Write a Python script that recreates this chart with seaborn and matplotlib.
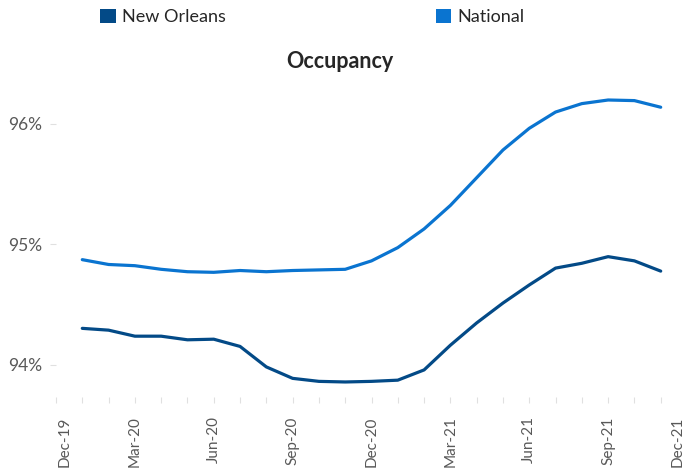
import matplotlib
matplotlib.use("Agg")
import matplotlib.pyplot as plt
import matplotlib.transforms as mtransforms
from matplotlib.patches import Patch
from matplotlib.ticker import FixedLocator, MultipleLocator, FuncFormatter
import seaborn as sns
import pandas as pd

# ---- data (Jan-20 .. Nov-21, monthly) ----
month_index = list(range(1, 24))
new_orleans = [94.30, 94.285, 94.235, 94.235, 94.205, 94.21, 94.15, 93.98, 93.885,
               93.86, 93.855, 93.86, 93.87, 93.955, 94.16, 94.345, 94.51, 94.66,
               94.80, 94.84, 94.895, 94.86, 94.775]
national = [94.87, 94.83, 94.82, 94.79, 94.77, 94.765, 94.78, 94.77, 94.78,
            94.785, 94.79, 94.86, 94.97, 95.125, 95.32, 95.55, 95.78, 95.96,
            96.095, 96.165, 96.195, 96.19, 96.135]
series_names = ["New Orleans", "National"]
tick_positions = [0, 3, 6, 9, 12, 15, 18, 21, 24]
tick_labels = ["Dec-19", "Mar-20", "Jun-20", "Sep-20", "Dec-20",
               "Mar-21", "Jun-21", "Sep-21", "Dec-21"]
y_ticks = [94, 95, 96]
title = "Occupancy"

colors = {"New Orleans": "#034A87", "National": "#0A74D0"}

df = pd.concat([
    pd.DataFrame({"month": month_index, "value": new_orleans, "series": series_names[0]}),
    pd.DataFrame({"month": month_index, "value": national, "series": series_names[1]}),
])

sns.set_theme(style="white")
plt.rcParams["font.family"] = ["Lato", "DejaVu Sans"]

W, H = 684, 469
fig = plt.figure(figsize=(W / 100, H / 100), dpi=100)
left_px, right_px, top_px, bottom_px = 56, 687, 80, 397
ax = fig.add_axes([left_px / W, 1 - bottom_px / H,
                   (right_px - left_px) / W, (bottom_px - top_px) / H])

sns.lineplot(data=df, x="month", y="value", hue="series", palette=colors,
             linewidth=2.3, ax=ax, legend=False)

ax.set_xlim(0, 24)
y_per_px = 2.0 / (364.5 - 123.5)
ax.set_ylim(94 - (bottom_px - 364.5) * y_per_px, 96 + (123.5 - top_px) * y_per_px)

for s in ax.spines.values():
    s.set_visible(False)

ax.xaxis.set_major_locator(FixedLocator(tick_positions))
ax.set_xticklabels(tick_labels, rotation=90, va="top", ha="center")
ax.xaxis.set_minor_locator(MultipleLocator(1))
ax.tick_params(axis="x", which="both", bottom=True, length=4, width=0.8,
               color="#E0E0E0", direction="out")
ax.tick_params(axis="x", which="major", labelsize=11, labelcolor="#595959", pad=10)

# keep the end labels inside the picture, as the reference does
labels = ax.get_xticklabels()
labels[0].set_transform(labels[0].get_transform() +
                        mtransforms.ScaledTranslation(9 / 100, 0, fig.dpi_scale_trans))
labels[-1].set_transform(labels[-1].get_transform() +
                         mtransforms.ScaledTranslation(-9 / 100, 0, fig.dpi_scale_trans))

ax.set_yticks(y_ticks)
ax.yaxis.set_major_formatter(FuncFormatter(lambda v, p: f"{v:.0f}%"))
ax.tick_params(axis="y", left=True, length=4, width=0.8, color="#E0E0E0",
               labelsize=12.5, labelcolor="#595959", pad=6)
ax.set_xlabel("")
ax.set_ylabel("")
ax.grid(False)

fig.text(340 / W, 1 - 68 / H, title, ha="center", va="baseline",
         fontsize=15.5, fontweight="bold", color="#262626")

handles = [Patch(facecolor=colors[n], edgecolor="none", label=n) for n in series_names]
fig.legend(handles=handles, loc="upper left", bbox_to_anchor=(100 / W, 1 - 9 / H),
           ncol=2, frameon=False, fontsize=13, handlelength=0.88, handleheight=0.85,
           handletextpad=0.35, columnspacing=11.6, borderpad=0, borderaxespad=0,
           labelcolor="#262626")

fig.savefig("out.png", dpi=100, facecolor="white")
